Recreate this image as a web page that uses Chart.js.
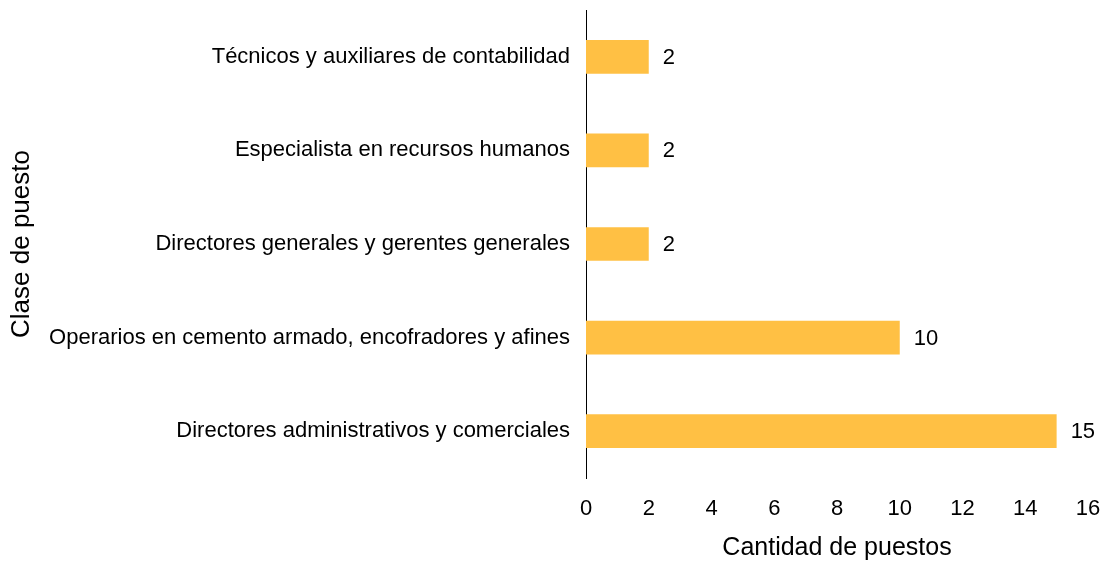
<!DOCTYPE html>
<html>
<head>
<meta charset="utf-8">
<script src="https://cdn.jsdelivr.net/npm/chart.js@4"></script>
<style>
  html, body { margin: 0; padding: 0; background: #fff; }
  #wrap { width: 1107px; height: 563px; position: relative; }
</style>
</head>
<body>
<div id="wrap"><canvas id="chart"></canvas></div>
<script>
// Data
const categories = [
    'Técnicos y auxiliares de contabilidad',
    'Especialista en recursos humanos',
    'Directores generales y gerentes generales',
    'Operarios en cemento armado, encofradores y afines',
    'Directores administrativos y comerciales'
];
const puestos = [2, 2, 2, 10, 15];
const xTicks = [0, 2, 4, 6, 8, 10, 12, 14, 16];

const FONT = '"Liberation Sans", Arial, sans-serif';

// draws the value next to the end of each bar
const barValueLabels = {
    id: 'barValueLabels',
    afterDatasetsDraw(chart) {
        const { ctx } = chart;
        const meta = chart.getDatasetMeta(0);
        ctx.save();
        ctx.font = `22px ${FONT}`;
        ctx.fillStyle = '#000';
        ctx.textAlign = 'left';
        ctx.textBaseline = 'middle';
        meta.data.forEach((bar, i) => {
            ctx.fillText(String(puestos[i]), bar.x + 14, bar.y + 1);
        });
        ctx.restore();
    }
};

new Chart(document.getElementById('chart'), {
    type: 'bar',
    data: {
        labels: categories,
        datasets: [{
            label: 'Cantidad de puestos',
            data: puestos,
            backgroundColor: '#FFC044',
            borderWidth: 0,
            barPercentage: 0.36,
            categoryPercentage: 1
        }]
    },
    options: {
        indexAxis: 'y',
        responsive: true,
        maintainAspectRatio: false,
        animation: false,
        layout: { padding: { top: 10, right: 19, bottom: 0, left: 0 } },
        plugins: {
            legend: { display: false },
            tooltip: { enabled: false }
        },
        scales: {
            x: {
                min: 0,
                max: 16,
                afterBuildTicks: (axis) => { axis.ticks = xTicks.map(v => ({ value: v })); },
                afterFit: (axis) => {
                    axis.height = 85;
                    axis.paddingLeft = 0;
                    axis.paddingRight = 0;
                },
                grid: { display: false, drawTicks: false },
                border: { display: false },
                ticks: { color: '#000', font: { family: FONT, size: 22 }, padding: 18, maxRotation: 0 },
                title: {
                    display: true,
                    text: 'Cantidad de puestos',
                    color: '#000',
                    font: { family: FONT, size: 25 },
                    padding: { top: 2, bottom: 0 }
                }
            },
            y: {
                afterFit: (axis) => {
                    axis.width = 586;
                    axis.paddingTop = 0;
                    axis.paddingBottom = 0;
                },
                grid: { display: false, drawTicks: false },
                border: { display: true, color: '#000', width: 1 },
                ticks: { color: '#000', font: { family: FONT, size: 22 }, padding: 16 },
                title: {
                    display: true,
                    text: 'Clase de puesto',
                    color: '#000',
                    font: { family: FONT, size: 26 },
                    padding: { top: 6, bottom: 0 }
                }
            }
        }
    },
    plugins: [barValueLabels]
});
</script>
</body>
</html>
